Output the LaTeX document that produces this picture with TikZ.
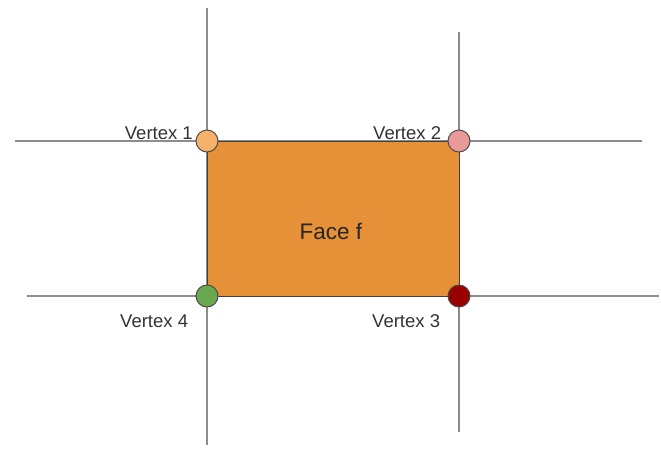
\documentclass[tikz,border=0pt]{standalone}
\usepackage{fontspec}
\setmainfont{Liberation Sans}
\begin{document}
\begin{tikzpicture}[x=1pt,y=-1pt,
  gridline/.style={draw=black!45, line width=1.3pt},
  vtx/.style={circle, draw=black!70, line width=1pt, minimum size=22pt, inner sep=0pt},
  vlabel/.style={font=\fontsize{18.5}{21}\selectfont, text=black!80, inner sep=0pt}]
\useasboundingbox (0,0) rectangle (661,448);
% grid line end points
\coordinate (v1t) at (207,8);   \coordinate (v1b) at (207,445);
\coordinate (v2t) at (459,32);  \coordinate (v2b) at (459,432);
\coordinate (h1l) at (15,141);  \coordinate (h1r) at (642,141);
\coordinate (h2l) at (27,296);  \coordinate (h2r) at (659,296);
\draw[gridline] (v1t) -- (v1b);
\draw[gridline] (v2t) -- (v2b);
\draw[gridline] (h1l) -- (h1r);
\draw[gridline] (h2l) -- (h2r);
% face
\node[draw=black!75, line width=1pt, fill={rgb,255:red,230;green,145;blue,56},
      minimum width=252pt, minimum height=155pt, inner sep=0pt] (face) at (333,218.5) {};
\node[font=\fontsize{22.5}{26}\selectfont, text=black!85] (flabel) at (331,231) {Face f};
% vertices
\node[vtx, fill={rgb,255:red,246;green,178;blue,107}] (v1) at (207,141) {};
\node[vtx, fill={rgb,255:red,234;green,153;blue,153}] (v2) at (459,141) {};
\node[vtx, fill={rgb,255:red,153;green,0;blue,0}] (v3) at (459,296) {};
\node[vtx, fill={rgb,255:red,106;green,168;blue,79}] (v4) at (207,296) {};
% labels
\node[vlabel, anchor=base east] (l1) at (193,139) {Vertex 1};
\node[vlabel, anchor=base west] (l2) at (373,139) {Vertex 2};
\node[vlabel, anchor=base west] (l3) at (372,327) {Vertex 3};
\node[vlabel, anchor=base west] (l4) at (120,327) {Vertex 4};
\end{tikzpicture}
\end{document}
